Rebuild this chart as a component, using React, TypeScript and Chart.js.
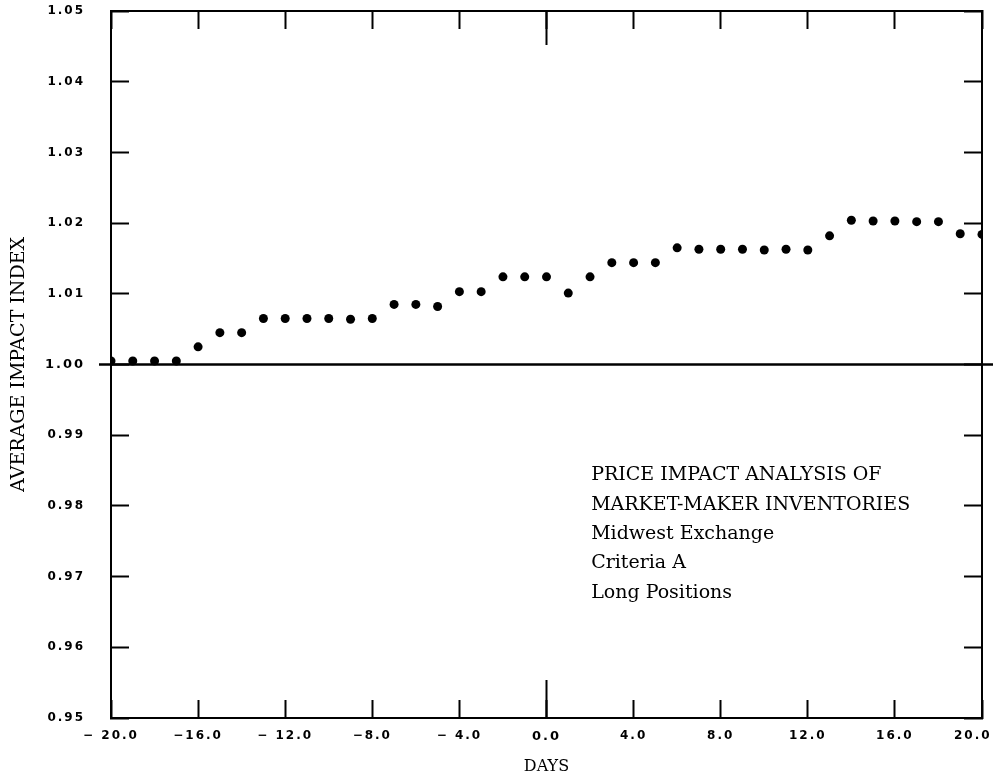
import React, { useEffect, useRef } from 'react';
import { Chart, registerables } from 'chart.js';

Chart.register(...registerables);

// Days relative to event
const days = [
  -20, -19, -18, -17, -16, -15, -14, -13, -12, -11, -10, -9, -8, -7, -6, -5, -4, -3, -2, -1,
  0, 1, 2, 3, 4, 5, 6, 7, 8, 9, 10, 11, 12, 13, 14, 15, 16, 17, 18, 19, 20,
];

// Average impact index
const impactIndex = [
  1.0005, 1.0005, 1.0005, 1.0005, 1.0025, 1.0045, 1.0045, 1.0065, 1.0065, 1.0065,
  1.0065, 1.0064, 1.0065, 1.0085, 1.0085, 1.0082, 1.0103, 1.0103, 1.0124, 1.0124,
  1.0124, 1.0101, 1.0124, 1.0144, 1.0144, 1.0144, 1.0165, 1.0163, 1.0163, 1.0163,
  1.0162, 1.0163, 1.0162, 1.0182, 1.0204, 1.0203, 1.0203, 1.0202, 1.0202, 1.0185,
  1.0184,
];

const xTickValues = [-20, -16, -12, -8, -4, 0, 4, 8, 12, 16, 20];
const xTickLabels = ['\u2212 20.0', '\u221216.0', '\u2212 12.0', '\u22128.0', '\u2212 4.0', '0.0', '4.0', '8.0', '12.0', '16.0', '20.0   '];
const yTickValues = [0.95, 0.96, 0.97, 0.98, 0.99, 1.0, 1.01, 1.02, 1.03, 1.04, 1.05];
const yTickLabels = ['0.95', '0.96', '0.97', '0.98', '0.99', '1.00', '1.01', '1.02', '1.03', '1.04', '1.05'];

const noteLines = [
  'PRICE IMPACT ANALYSIS OF',
  'MARKET-MAKER INVENTORIES',
  'Midwest Exchange',
  'Criteria A',
  'Long Positions',
];

const yTitle = 'AVERAGE IMPACT INDEX';
const xTitle = 'DAYS';

const TICK_FONT = { family: '"DejaVu Sans", sans-serif', size: 12, weight: 'bold' as const };
const TICK_FONT_BIG = { family: '"DejaVu Sans", sans-serif', size: 13, weight: 'bold' as const };

const framePlugin = {
  id: 'frame',
  beforeDatasetsDraw(chart: any) {
    const { ctx, chartArea, scales } = chart;
    const yOne = scales.y.getPixelForValue(1);
    const xZero = scales.x.getPixelForValue(0);
    ctx.save();
    ctx.strokeStyle = '#000';
    ctx.lineWidth = 2.5;
    ctx.beginPath();
    ctx.moveTo(chartArea.left - 12, yOne);
    ctx.lineTo(chartArea.right + 11, yOne);
    ctx.stroke();
    ctx.lineWidth = 2;
    ctx.beginPath();
    ctx.moveTo(xZero, chartArea.top);
    ctx.lineTo(xZero, chartArea.top + 34);
    ctx.moveTo(xZero, chartArea.bottom);
    ctx.lineTo(xZero, chartArea.bottom - 38);
    ctx.stroke();
    ctx.restore();
  },
  afterDatasetsDraw(chart: any) {
    chart.ctx.letterSpacing = '2px';
  },
  afterDraw(chart: any) {
    const { ctx, scales } = chart;
    ctx.letterSpacing = '0px';
    ctx.save();
    ctx.fillStyle = '#000';
    ctx.font = '19px "DejaVu Serif", serif';
    ctx.textAlign = 'left';
    ctx.textBaseline = 'alphabetic';
    const x = scales.x.getPixelForValue(2.05);
    const y0 = scales.y.getPixelForValue(0.9836);
    noteLines.forEach((line, i) => {
      ctx.fillText(line, x, y0 + i * 29.3);
    });
    ctx.restore();
  },
};

export default function App() {
  const canvasRef = useRef<HTMLCanvasElement | null>(null);

  useEffect(() => {
    const canvas = canvasRef.current;
    if (!canvas) return;

    const gridCommon = {
      display: true,
      drawOnChartArea: false,
      drawTicks: true,
      tickLength: -18,
      tickColor: '#000',
      tickWidth: 2,
      color: '#000',
    };
    const borderCommon = { display: true, color: '#000', width: 2 };

    const chart = new Chart(canvas, {
      type: 'scatter',
      data: {
        datasets: [
          {
            data: days.map((d, i) => ({ x: d, y: impactIndex[i] })),
            backgroundColor: '#000',
            borderColor: '#000',
            pointRadius: 4.5,
            pointHoverRadius: 4.5,
            borderWidth: 0,
          },
        ],
      },
      options: {
        animation: false,
        responsive: false,
        maintainAspectRatio: false,
        events: [],
        layout: { padding: 0 },
        plugins: {
          legend: { display: false },
          tooltip: { enabled: false },
          title: { display: false },
        },
        scales: {
          x: {
            type: 'linear',
            position: 'bottom',
            min: -20,
            max: 20,
            afterBuildTicks: (s: any) => {
              s.ticks = xTickValues.map((v) => ({ value: v }));
            },
            afterFit: (s: any) => {
              s.height = 61;
              s.paddingLeft = 0;
              s.paddingRight = 0;
            },
            ticks: {
              z: 1,
              color: '#000',
              padding: 29,
              maxRotation: 0,
              autoSkip: false,
              font: (c: any) => (c.tick && c.tick.value === 0 ? TICK_FONT_BIG : TICK_FONT),
              callback: (v: any) => xTickLabels[xTickValues.indexOf(Number(v))],
            },
            grid: gridCommon,
            border: borderCommon,
            title: {
              display: true,
              text: xTitle,
              color: '#000',
              font: { family: '"DejaVu Serif", serif', size: 16 },
              padding: { top: 0, bottom: 3 },
            },
          },
          x2: {
            type: 'linear',
            axis: 'x',
            position: 'top',
            min: -20,
            max: 20,
            afterBuildTicks: (s: any) => {
              s.ticks = xTickValues.map((v) => ({ value: v }));
            },
            afterFit: (s: any) => {
              s.height = 11;
              s.paddingLeft = 0;
              s.paddingRight = 0;
            },
            ticks: { display: false },
            grid: gridCommon,
            border: borderCommon,
          },
          y: {
            type: 'linear',
            position: 'left',
            min: 0.95,
            max: 1.05,
            afterBuildTicks: (s: any) => {
              s.ticks = yTickValues.map((v) => ({ value: v }));
            },
            afterFit: (s: any) => {
              s.width = 111;
              s.paddingTop = 0;
              s.paddingBottom = 0;
            },
            ticks: {
              z: 1,
              color: '#000',
              padding: 44,
              autoSkip: false,
              font: (c: any) => (c.tick && Math.abs(c.tick.value - 1) < 1e-9 ? TICK_FONT_BIG : TICK_FONT),
              callback: (v: any) => {
                const idx = yTickValues.findIndex((t) => Math.abs(t - Number(v)) < 1e-9);
                return yTickLabels[idx];
              },
            },
            grid: gridCommon,
            border: borderCommon,
            title: {
              display: true,
              text: yTitle,
              color: '#000',
              font: { family: '"DejaVu Serif", serif', size: 19 },
              padding: { top: 8, bottom: 0 },
            },
          },
          y2: {
            type: 'linear',
            axis: 'y',
            position: 'right',
            min: 0.95,
            max: 1.05,
            afterBuildTicks: (s: any) => {
              s.ticks = yTickValues.map((v) => ({ value: v }));
            },
            afterFit: (s: any) => {
              s.width = 14;
              s.paddingTop = 0;
              s.paddingBottom = 0;
            },
            ticks: { display: false },
            grid: gridCommon,
            border: borderCommon,
          },
        },
      } as any,
      plugins: [framePlugin],
    });

    return () => {
      chart.destroy();
    };
  }, []);

  return (
    <div style={{ position: 'absolute', left: 0, top: 0, width: 996, height: 779, background: '#fff' }}>
      <canvas ref={canvasRef} width={996} height={779} style={{ display: 'block', width: 996, height: 779 }} />
    </div>
  );
}
